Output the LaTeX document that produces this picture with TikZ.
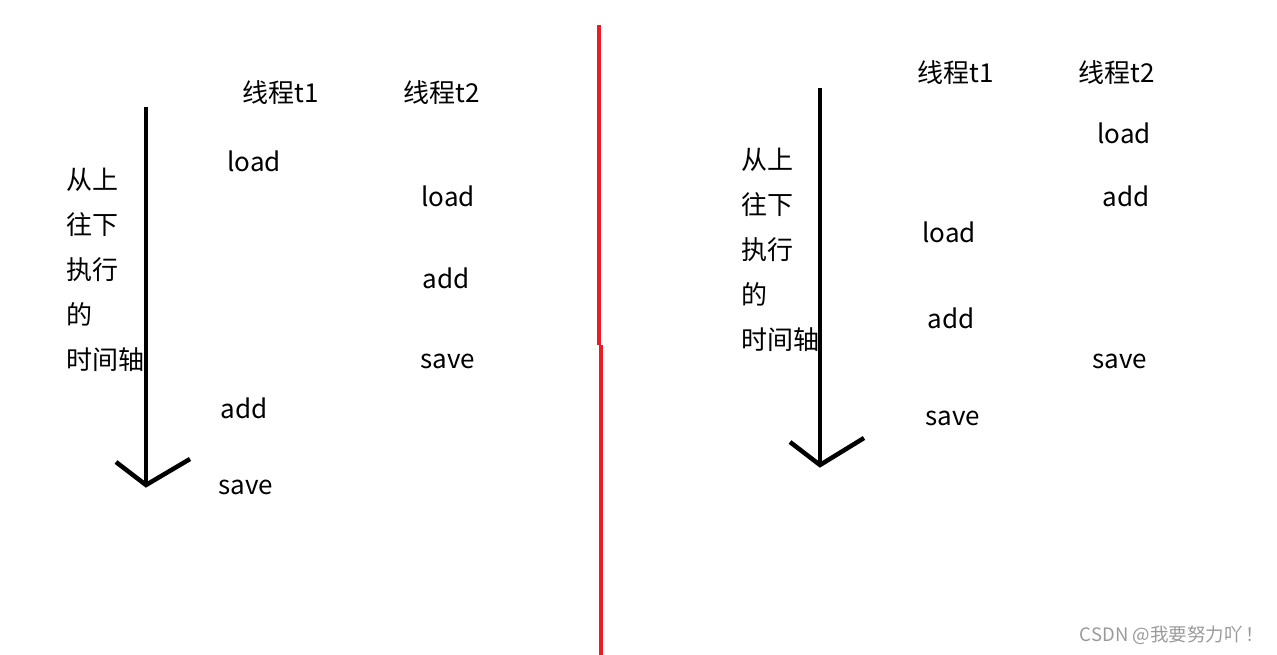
\documentclass[tikz,border=0pt]{standalone}
\usepackage{fontspec}
\usepackage{tikz}
\usetikzlibrary{positioning}
\newfontfamily\cjk{Noto Sans CJK SC}
\definecolor{splitred}{HTML}{ED1C24}
\definecolor{markgray}{HTML}{9A9A9A}

\begin{document}
\begin{tikzpicture}[
  x=1pt,y=-1pt,
  op/.style={font=\cjk\fontsize{26}{30}\selectfont,inner sep=0pt},
  axislabel/.style={font=\cjk\fontsize{26}{45}\selectfont,align=left,anchor=north west,inner sep=0pt},
  axis/.style={line width=4.5pt,draw=black},
  split/.style={line width=4.5pt,draw=splitred}
]
\useasboundingbox (0,0) rectangle (1277,655);
% left timeline
\node[op] (lt1) at (281,93) {线程t1};
\node[op] (lt2) at (442,93) {线程t2};
\node[op] (lload1) at (254,161) {load};
\node[op] (lload2) at (448,196) {load};
\node[op] (ladd2) at (446,278) {add};
\node[op] (lsave2) at (448,361) {save};
\node[op] (ladd1) at (244,408) {add};
\node[op] (lsave1) at (246,487) {save};
\node[axislabel] (ltext) at (66,168) {从上\\往下\\执行\\的\\时间轴};
\coordinate (ltop) at (146,107);
\coordinate (ltip) at (146,485);
\coordinate (lwingl) at (116,462);
\coordinate (lwingr) at (190,459);
\draw[axis] (ltop)--(ltip);
\draw[axis,line join=miter] (lwingl)--(ltip)--(lwingr);
% separator
\coordinate (stop) at (599,25);
\coordinate (smidA) at (599,345);
\coordinate (smidB) at (601,345);
\coordinate (sbot) at (601,655);
\draw[split] (stop)--(smidA);
\draw[split] (smidB)--(sbot);
% right timeline
\node[op] (rt1) at (956,73) {线程t1};
\node[op] (rt2) at (1117,73) {线程t2};
\node[op] (rload2) at (1124,133) {load};
\node[op] (radd2) at (1126,196) {add};
\node[op] (rsave2) at (1120,361) {save};
\node[op] (rload1) at (949,232) {load};
\node[op] (radd1) at (951,318) {add};
\node[op] (rsave1) at (953,418) {save};
\node[axislabel] (rtext) at (741,148) {从上\\往下\\执行\\的\\时间轴};
\coordinate (rtop) at (820,88);
\coordinate (rtip) at (820,465);
\coordinate (rwingl) at (790,442);
\coordinate (rwingr) at (864,438);
\draw[axis] (rtop)--(rtip);
\draw[axis,line join=miter] (rwingl)--(rtip)--(rwingr);
% watermark
\node[font=\cjk\fontsize{18.5}{20}\selectfont,text=markgray,inner sep=0pt] (mark) at (1172,635) {CSDN @我要努力吖\,！};
\end{tikzpicture}
\end{document}
